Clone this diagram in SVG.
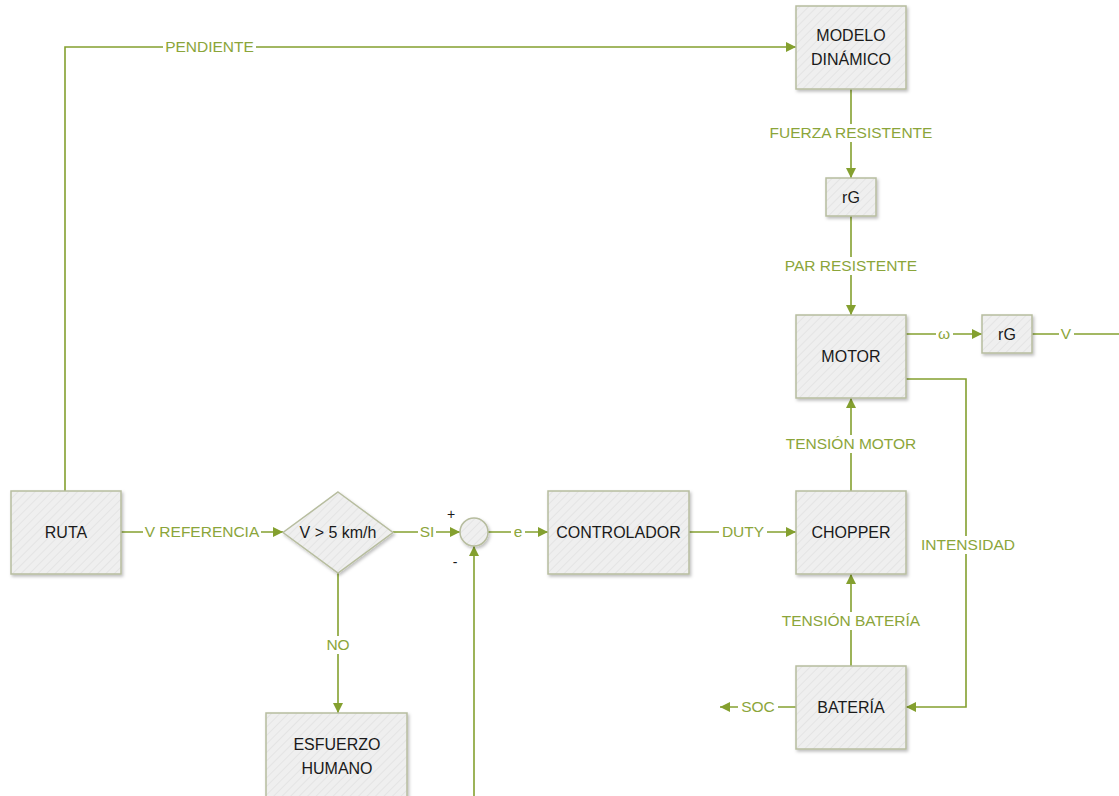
<svg xmlns="http://www.w3.org/2000/svg" width="1119" height="796" viewBox="0 0 1119 796">
<style>
.box{fill:url(#hatch);stroke:#b7bd9f;stroke-width:1.5;filter:url(#sh)}
.t{font-family:"Liberation Sans",Arial,sans-serif;font-size:16px;fill:#1a1a1a;text-anchor:middle}
.l{font-family:"Liberation Sans",Arial,sans-serif;font-size:15.5px;fill:#8ba53a;text-anchor:middle}
.s{font-family:"Liberation Sans",Arial,sans-serif;font-size:14px;fill:#1a1a1a;text-anchor:middle}
.c{fill:none;stroke:#84a02f;stroke-width:1.6}
.a{marker-end:url(#ar)}
.bg{fill:#ffffff}
</style>
<defs>
<pattern id="hatch" width="6" height="6" patternUnits="userSpaceOnUse" patternTransform="rotate(45)">
<rect width="6" height="6" fill="#efefef"/>
<line x1="0" y1="0" x2="0" y2="6" stroke="#e4e4e4" stroke-width="2"/>
</pattern>
<filter id="sh" x="-20%" y="-20%" width="140%" height="140%">
<feDropShadow dx="1.5" dy="2" stdDeviation="1.5" flood-color="#000" flood-opacity="0.25"/>
</filter>
<marker id="ar" viewBox="0 0 10 10" refX="10" refY="5" markerWidth="11" markerHeight="10" markerUnits="userSpaceOnUse" orient="auto">
<path d="M0,0 L10,5 L0,10 z" fill="#84a02f"/>
</marker>
</defs>
<rect width="1119" height="796" fill="#ffffff"/>

<g id="connectors">
<path class="c a" d="M65,491 V47 H796"/>
<path class="c a" d="M121,532 H283"/>
<path class="c a" d="M393,532 H460"/>
<path class="c a" d="M338,573 V713"/>
<path class="c a" d="M488,532 H548"/>
<path class="c a" d="M474,796 V546"/>
<path class="c a" d="M689,532 H796"/>
<path class="c a" d="M851,491 V398"/>
<path class="c a" d="M851,666 V574"/>
<path class="c a" d="M851,89 V178"/>
<path class="c a" d="M851,216 V315"/>
<path class="c a" d="M906,334 H982"/>
<path class="c" d="M1032,334 H1119"/>
<path class="c a" d="M906,379 H966 V707 H906"/>
<path class="c a" d="M796,707 H720"/>

<rect class="bg" x="163" y="38" width="93" height="18"/>
<text class="l" x="209.5" y="52">PENDIENTE</text>
<rect class="bg" x="143" y="523" width="118" height="18"/>
<text class="l" x="202" y="537">V REFERENCIA</text>
<rect class="bg" x="418" y="523" width="18" height="18"/>
<text class="l" x="427" y="537">SI</text>
<rect class="bg" x="323" y="636" width="30" height="18"/>
<text class="l" x="338" y="650">NO</text>
<rect class="bg" x="511" y="523" width="14" height="18"/>
<text class="l" x="518" y="537">e</text>
<rect class="bg" x="719" y="523" width="48" height="18"/>
<text class="l" x="743" y="537">DUTY</text>
<rect class="bg" x="778" y="435" width="146" height="18"/>
<text class="l" x="851" y="449">TENSIÓN MOTOR</text>
<rect class="bg" x="774" y="612" width="155" height="18"/>
<text class="l" x="851" y="626">TENSIÓN BATERÍA</text>
<rect class="bg" x="765" y="124" width="173" height="18"/>
<text class="l" x="851" y="138">FUERZA RESISTENTE</text>
<rect class="bg" x="781" y="257" width="141" height="18"/>
<text class="l" x="851" y="271">PAR RESISTENTE</text>
<rect class="bg" x="936" y="325" width="17" height="18"/>
<text class="l" x="944" y="339">ω</text>
<rect class="bg" x="1059" y="325" width="15" height="18"/>
<text class="l" x="1066" y="339">V</text>
<rect class="bg" x="913" y="536" width="110" height="18"/>
<text class="l" x="968" y="550">INTENSIDAD</text>
<rect class="bg" x="738" y="698" width="40" height="18"/>
<text class="l" x="758" y="712">SOC</text>
</g>

<g id="ruta">
<rect class="box" x="11" y="491" width="110" height="83"/>
<text class="t" x="66" y="538">RUTA</text>
</g>
<g id="decision">
<path class="box" d="M338,492 L393,532.5 L338,573 L283,532.5 Z"/>
<text class="t" x="338" y="538">V &gt; 5 km/h</text>
</g>
<g id="sumador">
<circle class="box" cx="474" cy="532" r="14"/>
<text class="s" x="451" y="519">+</text>
<text class="s" x="455" y="567">-</text>
</g>
<g id="controlador">
<rect class="box" x="548" y="491" width="141" height="83"/>
<text class="t" x="618.5" y="538">CONTROLADOR</text>
</g>
<g id="chopper">
<rect class="box" x="796" y="491" width="110" height="83"/>
<text class="t" x="851" y="538">CHOPPER</text>
</g>
<g id="motor">
<rect class="box" x="796" y="315" width="110" height="83"/>
<text class="t" x="851" y="362">MOTOR</text>
</g>
<g id="modelo">
<rect class="box" x="796" y="6" width="110" height="83"/>
<text class="t" x="851" y="41">MODELO</text>
<text class="t" x="851" y="65">DINÁMICO</text>
</g>
<g id="rg1">
<rect class="box" x="826" y="178" width="50" height="38"/>
<text class="t" x="851" y="203">rG</text>
</g>
<g id="rg2">
<rect class="box" x="982" y="315" width="50" height="38"/>
<text class="t" x="1007" y="340">rG</text>
</g>
<g id="bateria">
<rect class="box" x="796" y="666" width="110" height="83"/>
<text class="t" x="851" y="713">BATERÍA</text>
</g>
<g id="esfuerzo">
<rect class="box" x="266" y="713" width="141" height="95"/>
<text class="t" x="337" y="750">ESFUERZO</text>
<text class="t" x="337" y="774">HUMANO</text>
</g>
</svg>
